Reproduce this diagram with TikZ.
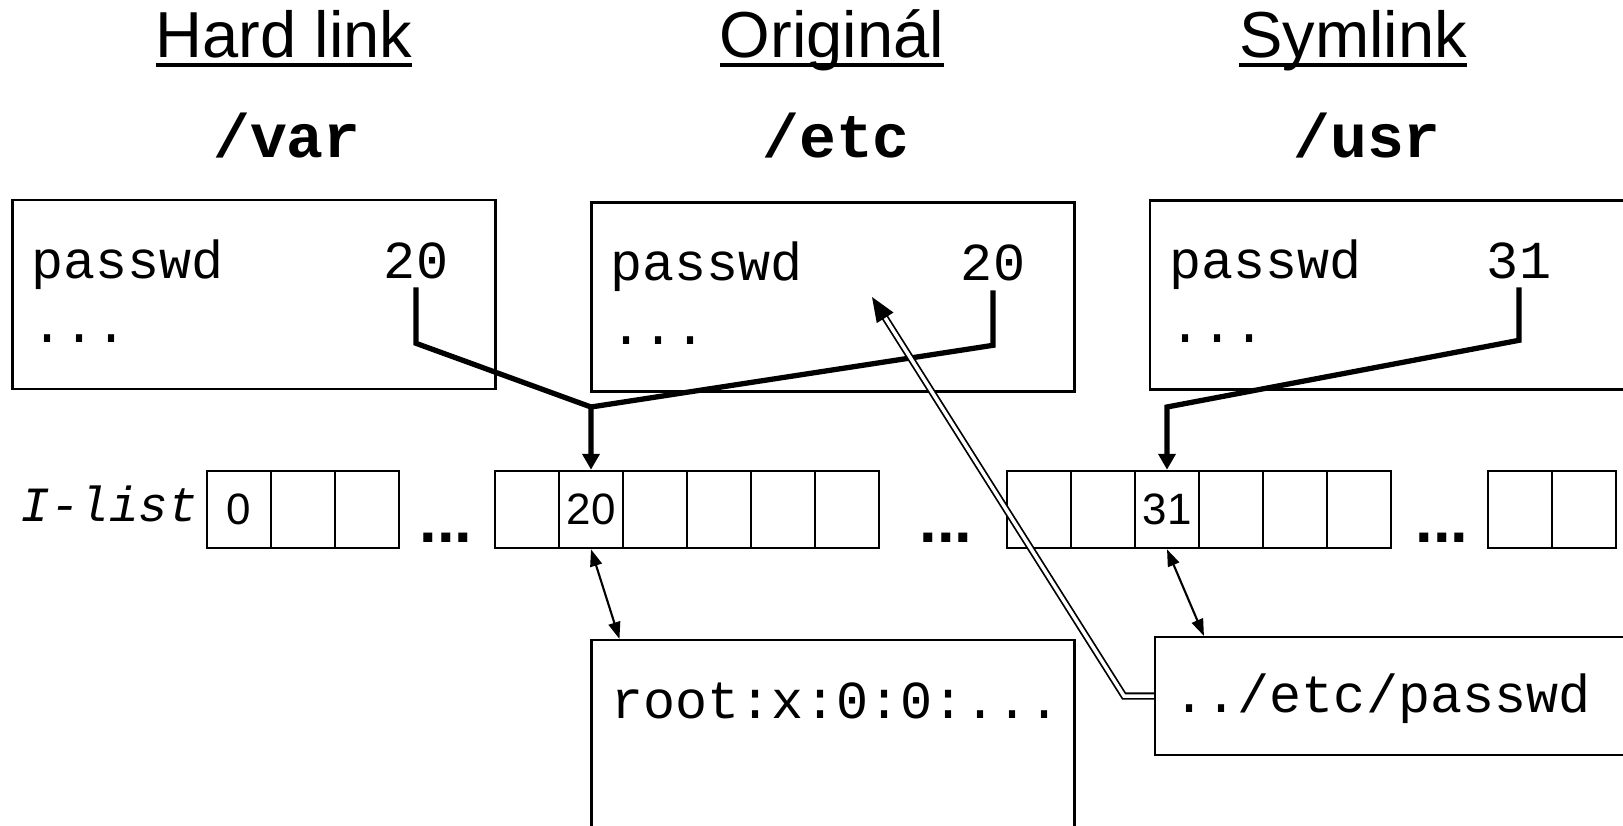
\documentclass[tikz,border=0pt]{standalone}
\usepackage{fontspec}
\setmainfont{Liberation Sans}
\setmonofont{Liberation Mono}
\usetikzlibrary{arrows.meta,calc}

\newcommand\ulined[1]{\setbox0\hbox{#1}\rlap{\rule[-2.7pt]{\wd0}{1.25pt}}\box0}

\tikzset{
  heading/.style={anchor=base, inner sep=0pt, font=\fontsize{18.5}{22}\selectfont},
  dirname/.style={anchor=base, inner sep=0pt, font=\fontsize{17.5}{20}\selectfont\ttfamily\bfseries},
  dirbox/.style={draw, line width=0.6pt, minimum width=4.83cm, minimum height=1.89cm, inner sep=0pt},
  entry/.style={anchor=base west, inner sep=0pt, font=\fontsize{15.2}{18}\selectfont\ttfamily},
  inum/.style={anchor=base, inner xsep=0pt, inner ysep=2.3pt, font=\fontsize{15.2}{18}\selectfont\ttfamily},
  cell/.style={draw, line width=0.75pt, minimum width=0.64cm, minimum height=0.77cm, inner sep=0pt},
  cellnum/.style={inner sep=0pt, font=\fontsize{12.5}{14}\selectfont},
  gapdots/.style={anchor=base, inner sep=0pt, font=\fontsize{18}{20}\selectfont\bfseries},
  bar/.style={line width=1.5pt},
  link/.style={bar, -{Triangle[length=4.5pt,width=4.8pt]}},
  ptr/.style={line width=0.6pt, {Triangle[length=4.8pt,width=3.4pt]}-{Triangle[length=4.8pt,width=3.4pt]}},
  symref/.style={double, line width=0.5pt, double distance=1pt, -{Triangle[length=7pt,width=5.5pt]}}
}

\begin{document}
\begin{tikzpicture}
    \useasboundingbox (0,0) rectangle (16.23,-8.26);
    \clip (0,0) rectangle (16.23,-8.26);

    % headings
    \node[heading] (thard) at (2.84,-0.58) {\ulined{Hard link}};
    \node[heading] (torig) at (8.32,-0.58) {\ulined{Originál}};
    \node[heading] (tsym) at (13.53,-0.58) {\ulined{Symlink}};

    \node[dirname] (dvar) at (2.87,-1.57) {/var};
    \node[dirname] (detc) at (8.36,-1.57) {/etc};
    \node[dirname] (dusr) at (13.67,-1.57) {/usr};

    % directories
    \node[dirbox] (var) at (2.54,-2.945) {};
    \node[entry] (vname) at (0.31,-2.78) {passwd};
    \node[inum] (v20) at (4.16,-2.78) {20};
    \node[entry] (vmore) at (0.31,-3.42) {...};

    \node[dirbox] (etc) at (8.33,-2.97) {};
    \node[entry] (ename) at (6.10,-2.81) {passwd};
    \node[inum] (e20) at (9.93,-2.81) {20};
    \node[entry] (emore) at (6.10,-3.44) {...};

    \node[dirbox] (usr) at (13.915,-2.95) {};
    \node[entry] (uname) at (11.69,-2.78) {passwd};
    \node[inum] (u31) at (15.19,-2.78) {31};
    \node[entry] (umore) at (11.69,-3.42) {...};

    % i-list
    \node[anchor=base west, inner sep=0pt, font=\fontsize{14}{16}\selectfont\ttfamily\itshape] (ilist) at (0.20,-5.21) {I-list};
    \foreach \i in {1,...,3} \node[cell] (a\i) at ({1.75+0.64*\i},-5.095) {};
    \foreach \i in {1,...,6} \node[cell] (b\i) at ({4.63+0.64*\i},-5.095) {};
    \foreach \i in {1,...,6} \node[cell] (c\i) at ({9.75+0.64*\i},-5.095) {};
    \foreach \i in {1,2} \node[cell] (d\i) at ({14.56+0.64*\i},-5.095) {};
    \node[cellnum] (n0) at (a1) {0};
    \node[cellnum] (n20) at (b2) {20};
    \node[cellnum] (n31) at (c3) {31};
    \node[gapdots] (gap1) at (4.46,-5.42) {...};
    \node[gapdots] (gap2) at (9.46,-5.42) {...};
    \node[gapdots] (gap3) at (14.42,-5.42) {...};

    % data blocks
    \node[dirbox, minimum height=2.40cm] (inode) at (8.33,-7.60) {};
    \node[entry] (data) at (6.11,-7.18) {root:x:0:0:...};
    \node[dirbox, minimum width=4.80cm, minimum height=1.18cm] (slink) at (13.95,-6.96) {};
    \node[entry] (target) at (11.73,-7.12) {../etc/passwd};

    % links
    \coordinate (hj) at (5.91,-4.07);
    \coordinate (uj) at (11.67,-4.07);
    \coordinate (ptrend) at (8.72,-2.97);
    \draw[link] (v20.south) -- ++(0,-0.56) -- (hj) -- (b2.north);
    \draw[bar] (e20.south) -- ++(0,-0.55) -- (hj);
    \draw[link] (u31.south) -- ++(0,-0.53) -- (uj) -- (c3.north);
    \draw[ptr] (b2.south) -- ($(inode.north west)+(0.29,0)$);
    \draw[ptr] (c3.south) -- ($(slink.north west)+(0.50,0)$);
    \draw[symref] (slink.west) -- ++(-0.30,0) -- (ptrend);
\end{tikzpicture}
\end{document}
